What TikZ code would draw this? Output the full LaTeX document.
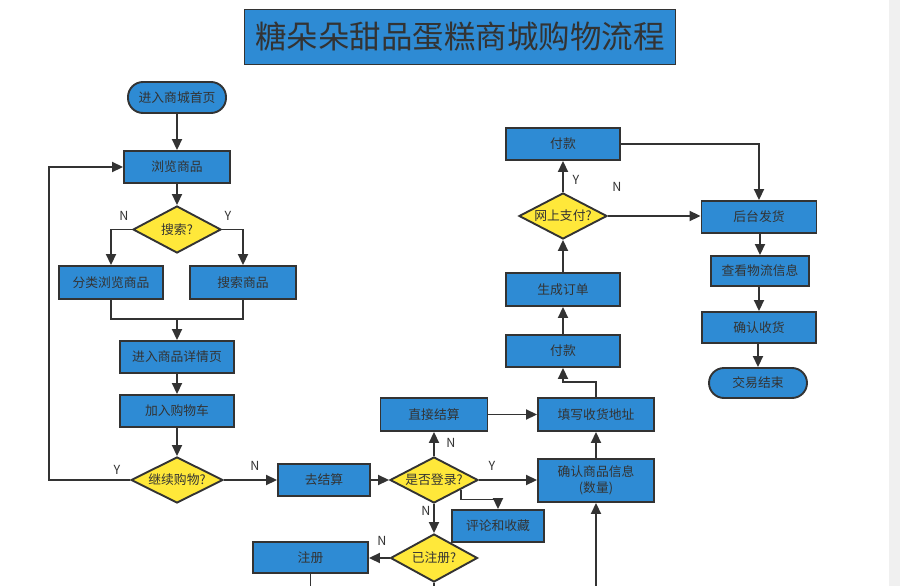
\documentclass[tikz,border=0pt]{standalone}
\usepackage{fontspec}
\setmainfont{Noto Sans CJK SC}
\usetikzlibrary{shapes.geometric,arrows.meta,calc}
\definecolor{boxblue}{HTML}{2E8BD4}
\definecolor{dyellow}{HTML}{FFE83A}
\definecolor{edge}{HTML}{333333}
\definecolor{txt}{HTML}{333333}
\definecolor{scrollgray}{HTML}{F0F0F0}
\tikzset{
  base/.style={draw=edge, line width=1.9pt, text=txt, font=\fontsize{12.8}{16}\selectfont, inner sep=0pt, align=center},
  proc/.style={base, rectangle, fill=boxblue},
  term/.style={base, rectangle, rounded corners=15pt, fill=boxblue},
  dec/.style={base, diamond, fill=dyellow, aspect=2},
  conn/.style={draw=edge, line width=1.8pt, -{Triangle[length=11pt,width=10pt]}},
  plain/.style={draw=edge, line width=1.8pt},
  lab/.style={text=txt, font=\fontsize{12.5}{15}\selectfont, inner sep=0pt},
}
\begin{document}
\begin{tikzpicture}[x=1pt,y=-1pt]
\useasboundingbox (0,0) rectangle (900,586);
\fill[white] (0,0) rectangle (900,586);
\fill[scrollgray] (889,0) rectangle (900,586);

% title
\node[proc, minimum width=431pt, minimum height=55pt, font=\fontsize{31.5}{36}\selectfont] (title) at (460,37) {糖朵朵甜品蛋糕商城购物流程};

% left column
\node[term, minimum width=98pt, minimum height=31pt] (start) at (177,97.5) {进入商城首页};
\node[proc, minimum width=106pt, minimum height=32pt] (browse) at (177,167) {浏览商品};
\node[dec, minimum width=88pt, minimum height=47pt] (search) at (177,229.5) {搜索?};
\node[proc, minimum width=104pt, minimum height=33pt] (cat) at (111,282.5) {分类浏览商品};
\node[proc, minimum width=106pt, minimum height=33pt] (srch) at (243,282.5) {搜索商品};
\node[proc, minimum width=114pt, minimum height=32pt] (detail) at (177,357) {进入商品详情页};
\node[proc, minimum width=114pt, minimum height=32pt] (cart) at (177,411) {加入购物车};
\node[dec, minimum width=92pt, minimum height=46pt] (cont) at (177,480) {继续购物?};

% middle
\node[proc, minimum width=92pt, minimum height=32pt] (go) at (324,480) {去结算};
\node[dec, minimum width=88pt, minimum height=46pt] (login) at (434,480) {是否登录?};
\node[proc, minimum width=107pt, minimum height=33pt] (direct) at (434,414.5) {直接结算};
\node[proc, minimum width=116pt, minimum height=33pt] (addr) at (596,414.5) {填写收货地址};
\node[proc, minimum width=116pt, minimum height=43pt] (confirm) at (596,480.5) {确认商品信息\\(数量)};
\node[proc, minimum width=92pt, minimum height=32pt] (comment) at (498,526) {评论和收藏};
\node[dec, minimum width=87pt, minimum height=48pt] (reg) at (434,558) {已注册?};
\node[proc, minimum width=115pt, minimum height=31pt] (signup) at (310.5,557.5) {注册};

% right
\node[proc, minimum width=114pt, minimum height=32pt] (pay1) at (563,144) {付款};
\node[dec, minimum width=88pt, minimum height=46pt] (online) at (563,216) {网上支付?};
\node[proc, minimum width=114pt, minimum height=33pt] (order) at (563,289.5) {生成订单};
\node[proc, minimum width=114pt, minimum height=32pt] (pay2) at (563,351) {付款};
\node[proc, minimum width=115pt, minimum height=32pt] (ship) at (759,217) {后台发货};
\node[proc, minimum width=98pt, minimum height=30pt] (track) at (760,271) {查看物流信息};
\node[proc, minimum width=114pt, minimum height=31pt] (recv) at (759,327.5) {确认收货};
\node[term, minimum width=98pt, minimum height=30pt] (end) at (758,383) {交易结束};

% connectors left
\draw[conn] (start) -- (browse);
\draw[conn] (browse) -- (search);
\draw[conn] (search.west) -| (cat.north);
\draw[conn] (search.east) -| (srch.north);
\coordinate (m) at (177,319);
\draw[plain] (cat.south) |- (m) -| (srch.south);
\draw[conn] (m) -- (detail.north);
\draw[conn] (detail) -- (cart);
\draw[conn] (cart) -- (cont);
\coordinate (loopL) at (49,480);
\draw[conn] (cont.west) -- (loopL) |- (browse.west);
\draw[conn] (cont) -- (go);

% connectors middle
\draw[conn] (go) -- (login);
\draw[conn] (login) -- (direct);
\draw[conn] (direct) -- (addr);
\draw[conn] (login.east) -- (login.east -| confirm.west);
\draw[conn] (confirm) -- (addr);
\coordinate (bot3) at (596,590);
\draw[conn] (bot3) -- (confirm.south);
\coordinate (cs) at ($(login.east)!0.4!(login.south)$);
\draw[conn] (cs) -- ++(0,10) -| (comment.north);
\draw[conn] (login) -- (reg);
\draw[conn] (reg.west) -- (reg.west -| signup.east);
\coordinate (sb) at (310.5,590);
\draw[plain] (signup.south) -- (sb);
\coordinate (rb) at (434,590);
\draw[plain] (reg.south) -- (rb);

% connectors right
\coordinate (ak) at (563,382);
\draw[conn] (addr.north) |- (ak) -- (pay2.south);
\draw[conn] (pay2) -- (order);
\draw[conn] (order) -- (online);
\draw[conn] (online) -- (pay1);
\draw[conn] (online.east) -- (online.east -| ship.west);
\draw[conn] (pay1.east) -| (ship.north);
\draw[conn] (ship.south -| track.north) -- (track.north);
\draw[conn] (track.south -| recv.north) -- (recv.north);
\draw[conn] (recv.south -| end.north) -- (end.north);

% labels
\node[lab] (l1) at (124,216) {N};
\node[lab] (l2) at (228,216) {Y};
\node[lab] (l3) at (117,470) {Y};
\node[lab] (l4) at (255,466) {N};
\node[lab] (l5) at (451,443) {N};
\node[lab] (l6) at (492,466) {Y};
\node[lab] (l7) at (426,511) {N};
\node[lab] (l8) at (382,541) {N};
\node[lab] (l9) at (576,180) {Y};
\node[lab] (l10) at (617,187) {N};
\end{tikzpicture}
\end{document}
